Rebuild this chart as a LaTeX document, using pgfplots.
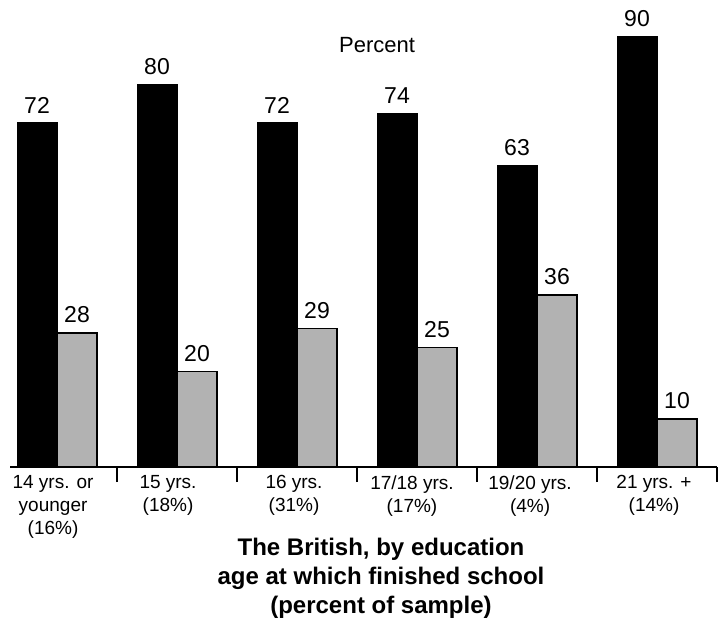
\documentclass[border=0pt]{standalone}
\usepackage{fontspec}
\setmainfont{Liberation Sans}
\usepackage{pgfplots}
\pgfplotsset{compat=1.18}

\begin{document}
\begin{tikzpicture}
\useasboundingbox (-10bp,-152bp) rectangle (709bp,467bp);
\begin{axis}[
    at={(0,0)}, anchor=south west,
    scale only axis,
    width=707bp, height=467bp,
    xmin=-0.392, xmax=5.5,
    ymin=0, ymax=97.7,
    axis x line*=bottom,
    axis y line=none,
    axis line style={line width=1.6bp},
    ybar, bar width=40bp,
    % labels sit a little left of the group centres, as in the original
    xtick={-0.033,0.925,1.975,2.958,3.942,4.975},
    xticklabels={{14 yrs. or\\younger\\(16\%)},{15 yrs.\\(18\%)},{16 yrs.\\(31\%)},
                 {17/18 yrs.\\(17\%)},{19/20 yrs.\\(4\%)},{21 yrs. +\\(14\%)}},
    xticklabel style={align=center, font=\fontsize{19bp}{23bp}\selectfont, yshift=-5bp},
    major tick length=0pt,
    minor xtick={0.5,1.5,2.5,3.5,4.5,5.5},
    minor tick length=15bp,
    tick align=outside,
    minor tick style={line width=1.2bp, black},
    /pgf/number format/assume math mode=true,
    nodes near coords,
    every node near coord/.append style={font=\fontsize{23bp}{27bp}\selectfont, text=black, yshift=6bp},
    clip=false,
]
\addplot[bar shift=-20bp, fill=black, draw=black, line width=1bp] coordinates {
(0,72) (1,80) (2,72) (3,74) (4,63) (5,90)
};
\addplot[bar shift=20bp, fill=black!30, draw=black, line width=1.6bp] coordinates {
(0,28) (1,20) (2,29) (3,25) (4,36) (5,10)
};
\end{axis}
\node[font=\fontsize{22bp}{26bp}\selectfont] at (367bp,422bp) {Percent};
\node[font=\fontsize{24bp}{29bp}\selectfont\bfseries, align=center] at (371bp,-111bp)
  {The British, by education\\age at which finished school\\(percent of sample)};
\end{tikzpicture}
\end{document}
